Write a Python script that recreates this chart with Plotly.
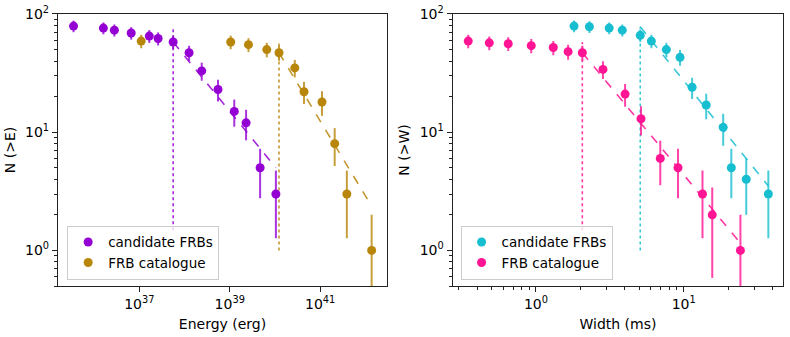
import plotly.graph_objects as go
import numpy as np

# energia (erg) e contagens cumulativas N(>E)
cand_E = [3.5e35, 1.6e36, 2.8e36, 6.6e36, 1.66e37, 2.6e37, 5.6e37, 1.26e38, 2.4e38, 5.5e38, 1.26e39, 2.3e39, 4.7e39, 1.05e40]
cand_NE = [79, 76, 73, 69, 65, 62, 58, 47, 33, 23, 15, 12, 5, 3]
cat_E = [1.1e37, 1.05e39, 2.6e39, 6.6e39, 1.23e40, 2.75e40, 4.4e40, 1.1e41, 2.1e41, 3.9e41, 1.38e42]
cat_NE = [59, 58, 55, 50, 47, 35, 22, 18, 8, 3, 1]

# largura (ms) e contagens cumulativas N(>W)
cand_W = [1.81, 2.30, 3.13, 3.84, 5.08, 6.04, 7.63, 9.44, 11.4, 14.2, 18.5, 21.0, 26.5, 37.4]
cand_NW = [79, 78, 76, 73, 66, 59, 50, 43, 24, 17, 11, 5, 4, 3]
cat_W = [0.348, 0.483, 0.649, 0.929, 1.31, 1.65, 2.06, 2.84, 4.01, 5.14, 6.94, 9.15, 13.4, 15.6, 24.2]
cat_NW = [59, 57, 56, 54, 52, 48, 47, 34, 21, 13, 6, 5, 3, 2, 1]

# ajustes de lei de potencia (extremos) e cortes
fit_cand_E = [5.6e37, 1.05e40]
fit_cand_NE = [58, 5.0]
fit_cat_E = [1.23e40, 1.35e42]
fit_cat_NE = [47, 2.4]
fit_cat_W = [2.06, 24.1]
fit_cat_NW = [47, 1.16]
fit_cand_W = [5.08, 37.4]
fit_cand_NW = [78, 3.5]

cut_cand_E, cut_cand_NE = 5.6e37, [1.48, 78]
cut_cat_E, cut_cat_NE = 1.23e40, [1.0, 58]
cut_cat_W, cut_cat_NW = 2.06, [1.48, 58]
cut_cand_W, cut_cand_NW = 5.08, [1.0, 78]

purple = '#9400D3'
gold = '#B8860B'
cyan = '#17BECF'
pink = '#FF1493'


def rgba(hexc, a):
    h = hexc.lstrip('#')
    return 'rgba(%d,%d,%d,%s)' % (int(h[0:2], 16), int(h[2:4], 16), int(h[4:6], 16), a)


def pontos(x, n, cor, nome, xa, ya, leg):
    n = np.array(n, dtype=float)
    err = np.sqrt(n)
    errm = np.minimum(err, 0.995 * n)
    return go.Scatter(
        x=x, y=n, mode='markers', name=nome, xaxis=xa, yaxis=ya, legend=leg,
        marker=dict(color=cor, size=9),
        error_y=dict(type='data', array=err, arrayminus=errm, symmetric=False,
                     color=rgba(cor, 0.8), thickness=2, width=0),
    )


def linha(x, y, cor, dash, xa, ya):
    return go.Scatter(x=x, y=y, mode='lines', xaxis=xa, yaxis=ya, showlegend=False,
                      line=dict(color=rgba(cor, 0.85), width=1.6, dash=dash), hoverinfo='skip')


fig = go.Figure()

fig.add_trace(linha([cut_cand_E, cut_cand_E], cut_cand_NE, purple, 'dot', 'x', 'y'))
fig.add_trace(linha([cut_cat_E, cut_cat_E], cut_cat_NE, gold, 'dot', 'x', 'y'))
fig.add_trace(linha(fit_cand_E, fit_cand_NE, purple, 'dash', 'x', 'y'))
fig.add_trace(linha(fit_cat_E, fit_cat_NE, gold, 'dash', 'x', 'y'))
fig.add_trace(pontos(cand_E, cand_NE, purple, 'candidate FRBs', 'x', 'y', 'legend'))
fig.add_trace(pontos(cat_E, cat_NE, gold, 'FRB catalogue', 'x', 'y', 'legend'))

fig.add_trace(linha([cut_cat_W, cut_cat_W], cut_cat_NW, pink, 'dot', 'x2', 'y2'))
fig.add_trace(linha([cut_cand_W, cut_cand_W], cut_cand_NW, cyan, 'dot', 'x2', 'y2'))
fig.add_trace(linha(fit_cat_W, fit_cat_NW, pink, 'dash', 'x2', 'y2'))
fig.add_trace(linha(fit_cand_W, fit_cand_NW, cyan, 'dash', 'x2', 'y2'))
fig.add_trace(pontos(cand_W, cand_NW, cyan, 'candidate FRBs', 'x2', 'y2', 'legend2'))
fig.add_trace(pontos(cat_W, cat_NW, pink, 'FRB catalogue', 'x2', 'y2', 'legend2'))

fonte = dict(family='DejaVu Sans', size=14, color='black')
fonte_leg = dict(family='DejaVu Sans', size=13.5, color='black')
eixo = dict(type='log', showline=True, mirror=True, linecolor='#222', linewidth=1.2,
            showgrid=False, zeroline=False, ticks='outside', ticklen=5, tickcolor='#222',
            tickfont=fonte, automargin=False)

minor_y = [m * 10 ** d for d in (-1, 0, 1) for m in range(2, 10)]
minor_w = [m * 10 ** d for d in (-1, 0, 1) for m in range(2, 10)]

ytick = dict(tickvals=[1, 10, 100], ticktext=['10<sup>0</sup>', '10<sup>1</sup>', '10<sup>2</sup>'],
             range=[np.log10(0.5), 2],
             minor=dict(tickvals=minor_y, ticks='outside', ticklen=3, tickcolor='#222'))

fig.update_layout(
    width=790, height=337,
    margin=dict(l=0, r=0, t=0, b=0),
    paper_bgcolor='white', plot_bgcolor='white',
    font=fonte,
    xaxis=dict(eixo, domain=[0.0734, 0.4899], range=[35.2, 42.48],
               tickvals=[1e37, 1e39, 1e41],
               ticktext=['10<sup>37</sup>', '10<sup>39</sup>', '10<sup>41</sup>'],
               title=dict(text='Energy (erg)', font=fonte, standoff=8)),
    yaxis=dict(eixo, **ytick, domain=[0.1513, 0.9585], anchor='x',
               title=dict(text='N (>E)', font=fonte, standoff=6)),
    xaxis2=dict(eixo, domain=[0.573, 0.9915], range=[np.log10(0.273), np.log10(47.2)], anchor='y2',
                tickvals=[1, 10], ticktext=['10<sup>0</sup>', '10<sup>1</sup>'],
                minor=dict(tickvals=minor_w, ticks='outside', ticklen=3, tickcolor='#222'),
                title=dict(text='Width (ms)', font=fonte, standoff=8)),
    yaxis2=dict(eixo, **ytick, domain=[0.1513, 0.9585], anchor='x2',
                title=dict(text='N (>W)', font=fonte, standoff=6)),
    legend=dict(x=0.085, y=0.17, xanchor='left', yanchor='bottom', font=fonte_leg,
                tracegroupgap=0,
                bgcolor='rgba(255,255,255,0.8)', bordercolor='#ccc', borderwidth=1),
    legend2=dict(x=0.583, y=0.17, xanchor='left', yanchor='bottom', font=fonte_leg,
                 tracegroupgap=0,
                 bgcolor='rgba(255,255,255,0.8)', bordercolor='#ccc', borderwidth=1),
)

fig.write_html("out.html", config={'displayModeBar': False},
               post_script="document.body.style.margin='0';")
